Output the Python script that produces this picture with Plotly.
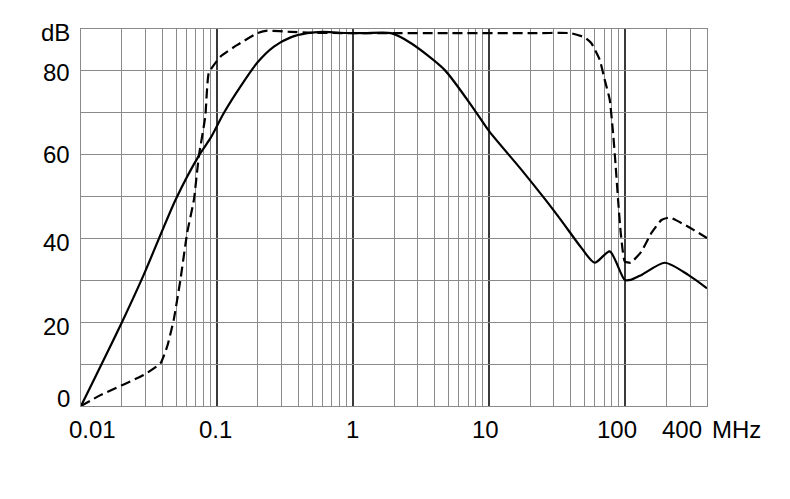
import numpy as np
import plotly.graph_objects as go

# ---- data ----
solid_f = [0.01, 0.02, 0.0289, 0.0495, 0.0743, 0.0897, 0.112, 0.149, 0.198, 0.262,
           0.348, 0.46, 0.6, 0.8, 1.2, 1.9, 2.67, 4.69, 7.8, 10.07, 17.2, 25.6, 34.1,
           47.6, 59.7, 77.1, 99.4, 110, 132, 196, 291, 400]
solid_db = [0, 20, 31.3, 49.2, 60, 64, 69.9, 76.3, 82.0, 85.8,
            88.0, 89.0, 89.3, 89.1, 89.0, 89.0, 86.6, 80.3, 70.7, 65.5, 56.5, 49.5, 44.2,
            37.8, 34.2, 36.9, 30.1, 30.1, 31.3, 34.2, 31.3, 28.1]

dash_f = [0.01, 0.0139, 0.0289, 0.0384, 0.043, 0.048, 0.0538, 0.0603, 0.0676, 0.0735,
          0.082, 0.087, 0.106, 0.141, 0.198, 0.234, 0.35, 0.5, 1, 5, 20, 40, 50.5,
          56.5, 65, 70.8, 77.1, 81.6, 85.3, 88.8, 92.9, 99.4, 110, 132, 156, 185, 213,
          291, 400]
dash_db = [0, 2.6, 7.4, 10.2, 14.2, 20.5, 30.1, 41.3, 49.2, 59.6,
           69.1, 79.5, 83.4, 86.2, 89.0, 89.6, 89.3, 89.1, 89.0, 89.0, 89.0, 89.0, 88.0,
           86.6, 82.7, 77.9, 73.1, 65.1, 57.2, 49.2, 41.3, 34.5, 34.2, 36.9, 41.3, 44.4, 45.0,
           42.8, 40.1]

x_tick_vals = [0.01, 0.1, 1, 10, 100, 400]
x_tick_text = ["0.01", "0.1", "1", "10", "100", "400"]
x_unit = "MHz"
y_tick_vals = [0, 20, 40, 60, 80, 90]
y_tick_text = ["0", "20", "40", "60", "80", "dB"]
y_grid_vals = [0, 10, 20, 30, 40, 50, 60, 70, 80, 90]

decades = [0.01, 0.1, 1, 10, 100]
minor_vals = [m * d for d in decades for m in range(2, 10) if m * d <= 400]

FONT = "Liberation Sans, Arial, sans-serif"
FS = 24

fig = go.Figure()
fig.add_trace(go.Scatter(x=dash_f, y=dash_db, mode="lines",
                         line=dict(color="black", width=2.2, dash="10px,5px",
                                   shape="spline", smoothing=0.4),
                         showlegend=False, hoverinfo="skip"))
fig.add_trace(go.Scatter(x=solid_f, y=solid_db, mode="lines",
                         line=dict(color="black", width=2.2, shape="spline", smoothing=0.7),
                         showlegend=False, hoverinfo="skip"))

fig.update_xaxes(type="log", range=[np.log10(0.01), np.log10(400)],
                 tickvals=decades, showticklabels=False, ticks="",
                 showgrid=True, gridcolor="#3a3a3a", gridwidth=1.6,
                 minor=dict(tickvals=minor_vals, showgrid=True, gridcolor="#8a8a8a",
                            gridwidth=1.3, ticks=""),
                 showline=True, linecolor="#8a8a8a", linewidth=1.3, mirror=True,
                 zeroline=False)
fig.update_yaxes(range=[0, 90], tickvals=y_grid_vals, showticklabels=False, ticks="",
                 showgrid=True, gridcolor="#8a8a8a", gridwidth=1.3,
                 showline=True, linecolor="#8a8a8a", linewidth=1.3, mirror=True,
                 zeroline=False)

ann = []
x_shifts = [11, -2, -1, -4, -8]
for v, t, s in zip(x_tick_vals[:-1], x_tick_text[:-1], x_shifts):
    ann.append(dict(x=np.log10(v), y=0, xref="x", yref="y", text=t, showarrow=False,
                    xanchor="center", yanchor="top", xshift=s, yshift=-8,
                    font=dict(family=FONT, size=FS, color="black")))
ann.append(dict(x=np.log10(x_tick_vals[-1]), y=0, xref="x", yref="y", text=x_tick_text[-1],
                showarrow=False, xanchor="right", yanchor="top", xshift=-3, yshift=-8,
                font=dict(family=FONT, size=FS, color="black")))
ann.append(dict(x=np.log10(x_tick_vals[-1]), y=0, xref="x", yref="y", text=x_unit,
                showarrow=False, xanchor="left", yanchor="top", xshift=3, yshift=-8,
                font=dict(family=FONT, size=FS, color="black")))
y_shifts = [8, -4, -4, 0, -2, -3]
for v, t, s in zip(y_tick_vals, y_tick_text, y_shifts):
    ann.append(dict(x=np.log10(0.01), y=v, xref="x", yref="y", text=t, showarrow=False,
                    xanchor="right", yanchor="middle", xshift=-9, yshift=s,
                    font=dict(family=FONT, size=FS, color="black")))

# the page body adds an 8px margin, so the figure is sized 8px smaller
fig.update_layout(width=782, height=491, margin=dict(l=73, r=83, t=21, b=93),
                  paper_bgcolor="white", plot_bgcolor="white", annotations=ann,
                  showlegend=False)
fig.write_html("out.html")
